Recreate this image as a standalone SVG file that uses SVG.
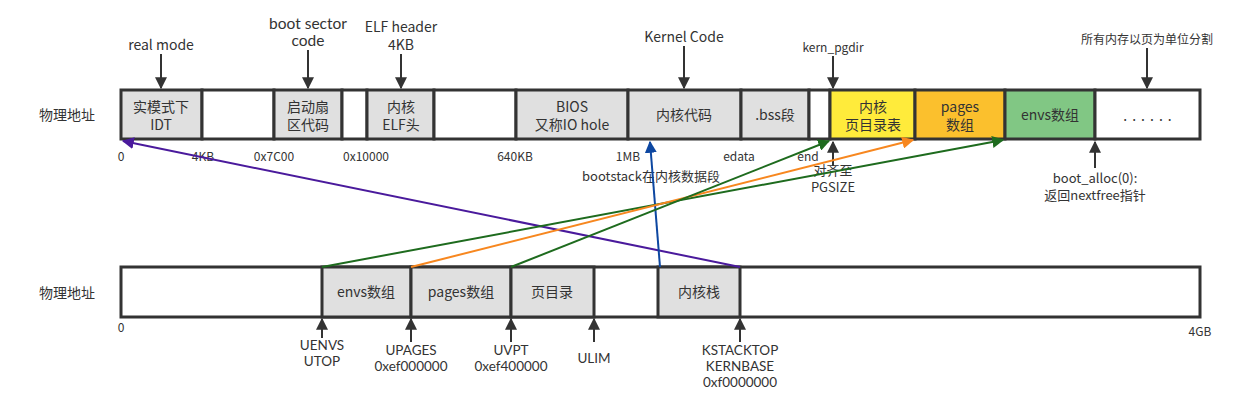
<svg xmlns="http://www.w3.org/2000/svg" width="1260" height="404" viewBox="0 0 1260 404">
<defs>
<style>
text{font-family:"Noto Sans CJK SC","Noto Sans",sans-serif;font-size:14px;fill:#333;text-anchor:middle}
.lbl{font-size:12px}
.sm{font-size:13px}
.lat{font-family:Lato,"Noto Sans",sans-serif;font-size:13.5px}
.latb{font-family:Lato,"Noto Sans",sans-serif;font-size:15.5px}
.cell{stroke:#333;stroke-width:3}
.g{fill:#e0e0e0}
.w{fill:#fff}
.ann{stroke:#333;stroke-width:2;fill:none}
.conn{stroke-width:2;fill:none}
</style>
<marker id="ah" viewBox="0 0 10 10" refX="9" refY="5" markerWidth="6" markerHeight="6" markerUnits="strokeWidth" orient="auto"><path d="M0,0L10,5L0,10z" fill="#333"/></marker>
<marker id="ap" viewBox="0 0 10 10" refX="9" refY="5" markerWidth="6" markerHeight="6" markerUnits="strokeWidth" orient="auto"><path d="M0,0L10,5L0,10z" fill="#4a1a9c"/></marker>
<marker id="ag" viewBox="0 0 10 10" refX="9" refY="5" markerWidth="6" markerHeight="6" markerUnits="strokeWidth" orient="auto"><path d="M0,0L10,5L0,10z" fill="#1e6b1e"/></marker>
<marker id="ao" viewBox="0 0 10 10" refX="9" refY="5" markerWidth="6" markerHeight="6" markerUnits="strokeWidth" orient="auto"><path d="M0,0L10,5L0,10z" fill="#f7871f"/></marker>
<marker id="ab" viewBox="0 0 10 10" refX="9" refY="5" markerWidth="6" markerHeight="6" markerUnits="strokeWidth" orient="auto"><path d="M0,0L10,5L0,10z" fill="#0d47a1"/></marker>
</defs>
<rect width="1260" height="404" fill="#fff"/>

<g id="top-label"><text x="67" y="120">物理地址</text></g>
<g id="top-bar">
<rect class="cell g" x="121" y="90" width="81" height="49"/>
<text x="161" y="112">实模式下<tspan x="161" dy="18">IDT</tspan></text>
<rect class="cell w" x="202" y="90" width="72" height="49"/>
<rect class="cell g" x="274" y="90" width="68" height="49"/>
<text x="308" y="112">启动扇<tspan x="308" dy="18">区代码</tspan></text>
<rect class="cell w" x="342" y="90" width="25" height="49"/>
<rect class="cell g" x="367" y="90" width="67" height="49"/>
<text x="401" y="112">内核<tspan x="401" dy="18">ELF头</tspan></text>
<rect class="cell w" x="434" y="90" width="82" height="49"/>
<rect class="cell g" x="516" y="90" width="112" height="49"/>
<text x="572" y="112">BIOS<tspan x="572" dy="18">又称IO hole</tspan></text>
<rect class="cell g" x="628" y="90" width="113" height="49"/>
<text x="684" y="120">内核代码</text>
<rect class="cell g" x="741" y="90" width="68" height="49"/>
<text x="775" y="120">.bss段</text>
<rect class="cell w" x="809" y="90" width="21" height="49"/>
<rect class="cell" fill="#ffeb3b" x="830" y="90" width="85" height="49"/>
<text x="873" y="112">内核<tspan x="873" dy="18">页目录表</tspan></text>
<rect class="cell" fill="#fbc02d" x="915" y="90" width="90" height="49"/>
<text x="960" y="112">pages<tspan x="960" dy="18">数组</tspan></text>
<rect class="cell" fill="#81c784" x="1005" y="90" width="90" height="49"/>
<text x="1050" y="120">envs数组</text>
<rect class="cell w" x="1095" y="90" width="105" height="49"/>
<text x="1150" y="121" letter-spacing="5">......</text>
</g>

<g id="top-addresses">
<text class="lbl" x="121" y="161">0</text>
<text class="lbl" x="203" y="161">4KB</text>
<text class="lbl" x="274" y="161">0x7C00</text>
<text class="lbl" x="366" y="161">0x10000</text>
<text class="lbl" x="515" y="161">640KB</text>
<text class="lbl" x="628" y="161">1MB</text>
<text class="lbl" x="739" y="161">edata</text>
<text class="lbl" x="808" y="161">end</text>
</g>

<g id="top-annotations">
<text x="161" y="50">real mode</text>
<line class="ann" x1="161" y1="54" x2="161" y2="88" marker-end="url(#ah)"/>
<text class="latb" x="308" y="29">boot sector<tspan x="308" dy="17">code</tspan></text>
<line class="ann" x1="308" y1="50" x2="308" y2="88" marker-end="url(#ah)"/>
<text x="401" y="32">ELF header<tspan x="401" dy="18">4KB</tspan></text>
<line class="ann" x1="401" y1="54" x2="401" y2="88" marker-end="url(#ah)"/>
<text x="684" y="42">Kernel Code</text>
<line class="ann" x1="684" y1="46" x2="684" y2="88" marker-end="url(#ah)"/>
<text class="lbl" x="833" y="52">kern_pgdir</text>
<line class="ann" x1="833" y1="56" x2="833" y2="88" marker-end="url(#ah)"/>
<text class="lbl" x="1147" y="44">所有内存以页为单位分割</text>
<line class="ann" x1="1147" y1="48" x2="1147" y2="88" marker-end="url(#ah)"/>
<line class="ann" x1="833" y1="166" x2="833" y2="142" marker-end="url(#ah)"/>
<text class="sm" x="833" y="175">对齐至<tspan x="833" dy="17">PGSIZE</tspan></text>
<line class="ann" x1="1095" y1="168" x2="1095" y2="142" marker-end="url(#ah)"/>
<text class="sm" x="1095" y="183">boot_alloc(0):<tspan x="1095" dy="17">返回nextfree指针</tspan></text>
<text class="sm" x="651" y="181">bootstack在内核数据段</text>
</g>

<g id="bottom-label"><text x="67" y="298">物理地址</text></g>
<g id="bottom-bar">
<rect class="cell w" x="121" y="267" width="1079" height="50"/>
<rect class="cell g" x="322" y="267" width="89" height="50"/>
<text x="366" y="297">envs数组</text>
<rect class="cell g" x="411" y="267" width="100" height="50"/>
<text x="461" y="297">pages数组</text>
<rect class="cell g" x="511" y="267" width="83" height="50"/>
<text x="552" y="297">页目录</text>
<rect class="cell g" x="658" y="267" width="82" height="50"/>
<text x="699" y="297">内核栈</text>
<text class="lbl" x="121" y="332">0</text>
<text class="lbl" x="1200" y="336">4GB</text>
</g>

<g id="bottom-annotations">
<line class="ann" x1="322" y1="338" x2="322" y2="319" marker-end="url(#ah)"/>
<text class="lat" x="322" y="350">UENVS<tspan x="322" dy="16">UTOP</tspan></text>
<line class="ann" x1="411" y1="342" x2="411" y2="319" marker-end="url(#ah)"/>
<text class="lat" x="411" y="355">UPAGES<tspan x="411" dy="16">0xef000000</tspan></text>
<line class="ann" x1="511" y1="342" x2="511" y2="319" marker-end="url(#ah)"/>
<text class="lat" x="511" y="355">UVPT<tspan x="511" dy="16">0xef400000</tspan></text>
<line class="ann" x1="594" y1="342" x2="594" y2="319" marker-end="url(#ah)"/>
<text class="lat" x="594" y="363">ULIM</text>
<line class="ann" x1="740" y1="342" x2="740" y2="319" marker-end="url(#ah)"/>
<text class="lat" x="740" y="355">KSTACKTOP<tspan x="740" dy="16">KERNBASE</tspan><tspan x="740" dy="16">0xf0000000</tspan></text>
</g>

<g id="connectors">
<line class="conn" stroke="#4a1a9c" x1="740" y1="267" x2="123" y2="141" marker-end="url(#ap)"/>
<line class="conn" stroke="#0d47a1" x1="660" y1="267" x2="650" y2="142" marker-end="url(#ab)"/>
<line class="conn" stroke="#1e6b1e" x1="322" y1="267" x2="1003" y2="140" marker-end="url(#ag)"/>
<line class="conn" stroke="#f7871f" x1="411" y1="267" x2="913" y2="140" marker-end="url(#ao)"/>
<line class="conn" stroke="#1e6b1e" x1="511" y1="267" x2="829" y2="141" marker-end="url(#ag)"/>
</g>
</svg>
